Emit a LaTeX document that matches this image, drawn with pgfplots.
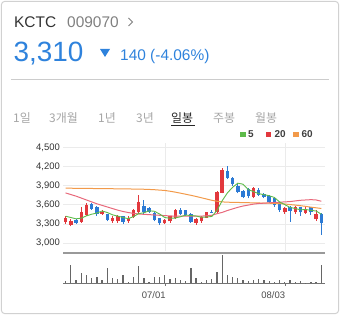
\documentclass[border=0pt]{standalone}
\usepackage{pgfplots}
\pgfplotsset{compat=1.18}
\usepackage{pgfplotstable}
\usepackage{fontspec}
\setmainfont{Liberation Sans}
\newfontfamily\kr{Noto Sans CJK KR}
\definecolor{upred}{HTML}{E2383D}
\definecolor{dnblue}{HTML}{2C7AD4}
\definecolor{mafive}{HTML}{5DBB4A}
\definecolor{matwenty}{HTML}{E8687A}
\definecolor{masixty}{HTML}{F29A4A}
\definecolor{hdrblue}{HTML}{2E82DC}
\definecolor{gridc}{HTML}{EBEBEB}

\pgfplotstableread{
i o h l c
0 3330 3420 3300 3390
1 3290 3380 3260 3350
3 3330 3560 3320 3480
4 3440 3620 3430 3590
7 3460 3510 3440 3490
9 3340 3430 3320 3400
10 3340 3440 3320 3420
12 3340 3420 3320 3400
13 3410 3540 3400 3520
14 3480 3760 3460 3640
19 3310 3380 3300 3360
20 3340 3430 3320 3420
21 3400 3530 3380 3510
25 3320 3400 3290 3380
26 3340 3430 3320 3410
27 3400 3490 3390 3480
29 3480 3820 3470 3800
30 3790 4170 3780 4150
36 3720 3880 3700 3860
42 3480 3570 3460 3550
44 3480 3580 3460 3560
46 3470 3560 3460 3540
48 3370 3510 3350 3450
}\upT

\pgfplotstableread{
i o h l c
2 3360 3370 3300 3320
5 3610 3620 3520 3540
6 3560 3580 3430 3450
8 3450 3460 3340 3360
11 3420 3430 3300 3330
15 3580 3680 3460 3480
16 3550 3560 3470 3490
17 3470 3480 3340 3360
18 3390 3400 3280 3310
22 3520 3550 3440 3460
23 3510 3520 3420 3440
24 3460 3470 3320 3330
28 3490 3510 3470 3480
31 4130 4200 4000 4020
32 4020 4040 3900 3920
33 3900 3920 3780 3800
34 3820 3830 3700 3720
35 3840 3860 3700 3730
37 3830 3860 3740 3760
38 3770 3780 3700 3720
39 3740 3760 3620 3640
40 3700 3710 3570 3590
41 3640 3650 3490 3510
43 3570 3580 3330 3500
45 3560 3570 3420 3480
47 3560 3570 3440 3480
49 3450 3470 3130 3310
}\dnT

\pgfplotstableread{
i v ma5 ma20 ma60
0 8 3420 3785 3860
1 55 3400 3760 3859
2 10 3380 3735 3858
3 30 3390 3705 3857
4 25 3426 3675 3856
5 15 3452 3645 3855
6 20 3470 3615 3854
7 10 3502 3590 3853
8 45 3478 3565 3852
9 15 3442 3540 3851
10 12 3422 3515 3850
11 25 3400 3495 3849
12 5 3382 3478 3848
13 20 3414 3465 3846
14 53 3462 3455 3845
15 15 3474 3450 3843
16 4 3506 3445 3840
17 20 3498 3440 3836
18 20 3456 3435 3830
19 25 3400 3430 3824
20 12 3388 3425 3812
21 15 3392 3422 3798
22 10 3412 3420 3782
23 8 3438 3420 3765
24 45 3432 3420 3748
25 15 3424 3420 3730
26 5 3404 3422 3710
27 10 3408 3428 3690
28 12 3416 3435 3670
29 35 3510 3460 3655
30 85 3664 3480 3645
31 25 3786 3510 3640
32 18 3874 3535 3638
33 15 3938 3560 3636
34 10 3922 3580 3634
35 8 3838 3595 3632
36 10 3806 3610 3630
37 12 3774 3620 3628
38 10 3758 3625 3626
39 8 3742 3630 3624
40 5 3714 3635 3622
41 10 3644 3640 3618
42 5 3602 3645 3612
43 10 3558 3650 3603
44 3 3542 3660 3595
45 8 3520 3670 3585
46 2 3526 3675 3575
47 5 3512 3680 3562
48 5 3502 3675 3552
49 55 3452 3655 3542
}\allT

\begin{document}
\begin{tikzpicture}[x=1bp,y=1bp]
\path[use as bounding box] (0,0) rectangle (340,315);
\draw[black!18, line width=1bp, rounded corners=3bp] (1.5,1.5) rectangle (338.5,313.5);

% header
\node[anchor=base west, inner sep=0, text=black!80, font=\fontsize{15.5}{16}\selectfont] at (14,287.3) {KCTC};
\node[anchor=base west, inner sep=0, text=black!50, font=\fontsize{15.5}{16}\selectfont] at (67,287.3) {009070};
\draw[black!50, line width=1bp] (128.5,297) -- (132.5,293) -- (128.5,289);
\node[anchor=base west, inner sep=0, text=hdrblue, font=\fontsize{28}{30}\selectfont] at (13.5,254) {3,310};
\fill[hdrblue] (100,266) -- (110,266) -- (105,258) -- cycle;
\node[anchor=base west, inner sep=0, text=hdrblue, font=\fontsize{15.5}{16}\selectfont] at (120,254.3) {140 (-4.06\%)};
\draw[black!20, line width=0.8bp] (11,236) -- (329,236);

% tabs
\begin{scope}[every node/.style={anchor=base west, inner sep=0, font=\kr\fontsize{12}{13}\selectfont, text=black!35}]
\node at (13,192.7) {1일};
\node at (49,192.7) {3개월};
\node at (98,192.7) {1년};
\node at (136,192.7) {3년};
\node[text=black!85] at (171,192.7) {일봉};
\node at (213,192.7) {주봉};
\node at (255,192.7) {월봉};
\end{scope}
\draw[black!85, line width=0.9bp] (171,189.5) -- (195,189.5);

% legend
\fill[mafive] (240,178.3) rectangle (245.5,183.3);
\node[anchor=base west, inner sep=0, font=\bfseries\fontsize{10}{11}\selectfont, text=black!75] at (248,178) {5};
\fill[upred] (265.7,178.3) rectangle (271.2,183.3);
\node[anchor=base west, inner sep=0, font=\bfseries\fontsize{10}{11}\selectfont, text=black!75] at (274.5,178) {20};
\fill[masixty] (293,178.3) rectangle (298.5,183.3);
\node[anchor=base west, inner sep=0, font=\bfseries\fontsize{10}{11}\selectfont, text=black!75] at (301.5,178) {60};

% price panel
\begin{axis}[
  at={(63bp,64.3bp)}, anchor=south west, scale only axis,
  width=262bp, height=107.2bp,
  xmin=-0.5, xmax=49.7, ymin=2880, ymax=4560,
  axis line style={draw=none},
  ytick={3000,3300,3600,3900,4200,4500},
  yticklabels={{3,000},{3,300},{3,600},{3,900},{4,200},{4,500}},
  xtick={19.2,42.1}, xticklabels={},
  grid=major, major grid style={gridc, line width=0.7bp},
  tick style={draw=none},
  yticklabel style={font=\fontsize{9.5}{10}\selectfont, text=black!80, anchor=east, inner xsep=0pt, xshift=-3bp},
  candle/.style={draw=none, mark=none, forget plot, error bars/y dir=plus, error bars/y explicit, error bars/error mark=none},
]
\addplot[candle, error bars/error bar style={draw=upred, line width=0.9bp}]
  table[x=i, y=l, y error plus expr={\thisrow{h}-\thisrow{l}}] {\upT};
\addplot[candle, error bars/error bar style={draw=upred, line width=3.4bp}]
  table[x=i, y=o, y error plus expr={\thisrow{c}-\thisrow{o}}] {\upT};
\addplot[candle, error bars/error bar style={draw=dnblue, line width=0.9bp}]
  table[x=i, y=l, y error plus expr={\thisrow{h}-\thisrow{l}}] {\dnT};
\addplot[candle, error bars/error bar style={draw=dnblue, line width=3.4bp}]
  table[x=i, y=c, y error plus expr={\thisrow{o}-\thisrow{c}}] {\dnT};
\addplot[masixty, line width=1bp, mark=none] table[x=i, y=ma60] {\allT};
\addplot[matwenty, line width=1bp, mark=none] table[x=i, y=ma20] {\allT};
\addplot[mafive, line width=0.9bp, mark=none] table[x=i, y=ma5] {\allT};
\end{axis}

% volume panel
\begin{axis}[
  at={(63bp,31.7bp)}, anchor=south west, scale only axis,
  width=262bp, height=30.3bp,
  xmin=-0.5, xmax=49.7, ymin=0, ymax=91,
  axis x line*=bottom, axis y line=none,
  axis line style={-, draw=black!55, line width=0.9bp},
  xtick={19.2,42.1}, xticklabels={07/01,08/03},
  xtick align=outside, major tick length=2.5bp,
  tick style={draw=black!55, line width=0.8bp},
  ytick=\empty,
  xticklabel style={anchor=north east, inner xsep=0pt, font=\fontsize{9.5}{10}\selectfont, text=black!70, yshift=-2.5bp},
  clip=false,
]
\addplot[ycomb, black!60, line width=1.3bp, mark=none] table[x=i, y=v] {\allT};
\draw[black!40, line width=1.6bp] (rel axis cs:0,1) -- (rel axis cs:1,1);
\end{axis}
\end{tikzpicture}
\end{document}
